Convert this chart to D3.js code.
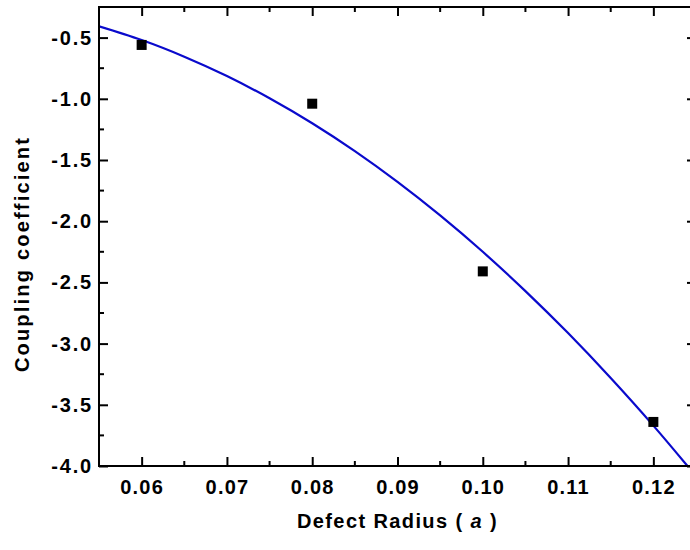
<!DOCTYPE html>
<html>
<head>
<meta charset="utf-8">
<script src="https://cdn.jsdelivr.net/npm/d3@7"></script>
<style>
  body { margin: 0; background: #fff; overflow: hidden; }
  text { font-family: "Liberation Sans", Arial, sans-serif; font-weight: bold; fill: #000; }
</style>
</head>
<body>
<div id="chart"></div>
<script>
// measured points
let radius = [0.06, 0.08, 0.10, 0.12];
let coupling = [-0.56, -1.04, -2.41, -3.64];

// fit line
let fitX = [0.055, 0.06, 0.065, 0.07, 0.075, 0.08, 0.085, 0.09, 0.095, 0.10, 0.105, 0.11, 0.115, 0.12, 0.124];
let fitY = [-0.408, -0.520, -0.656, -0.814, -0.996, -1.200, -1.428, -1.679, -1.953, -2.250, -2.571, -2.914, -3.281, -3.670, -4.000];

let xTicks = [0.06, 0.07, 0.08, 0.09, 0.10, 0.11, 0.12];
let xTickLabels = ["0.06", "0.07", "0.08", "0.09", "0.10", "0.11", "0.12"];
let yTicks = [-0.5, -1.0, -1.5, -2.0, -2.5, -3.0, -3.5, -4.0];
let yTickLabels = ["-0.5", "-1.0", "-1.5", "-2.0", "-2.5", "-3.0", "-3.5", "-4.0"];

let width = 690, height = 550;
let pLeft = 99, pRight = 696, pTop = 7, pBottom = 466;

let svg = d3.select("#chart")
    .append("svg")
    .attr("width", width)
    .attr("height", height);

let x = d3.scaleLinear().domain([0.055, 0.125]).range([pLeft, pRight]);
let y = d3.scaleLinear().domain([-4.0, -0.25]).range([pBottom, pTop]);

let xMinor = d3.range(0.055, 0.1251, 0.005).filter(function (v) {
    return Math.abs(Math.round(v * 100) - v * 100) > 1e-6;
});
let yMinor = d3.range(-3.75, -0.25, 0.5);

svg.append("defs").append("clipPath").attr("id", "plot")
    .append("rect")
    .attr("x", pLeft).attr("y", pTop)
    .attr("width", pRight - pLeft).attr("height", pBottom - pTop);

// fitted curve
let line = d3.line()
    .x(function (d, i) { return x(fitX[i]); })
    .y(function (d) { return y(d); })
    .curve(d3.curveNatural);

svg.append("path")
    .datum(fitY)
    .attr("clip-path", "url(#plot)")
    .attr("fill", "none")
    .attr("stroke", "#0a0acc")
    .attr("stroke-width", 2.2)
    .attr("d", line);

// data squares
svg.selectAll(".pt")
    .data(coupling)
    .enter()
    .append("rect")
    .attr("x", function (d, i) { return x(radius[i]) - 5; })
    .attr("y", function (d) { return y(d) - 5; })
    .attr("width", 10)
    .attr("height", 10)
    .attr("fill", "#000");

// axes, ticks inward on all sides
function ticks(axis, g) {
    g.call(axis);
    g.select(".domain").remove();
    g.selectAll("line").attr("stroke", "#000").attr("stroke-width", 2);
}

let xb = svg.append("g").attr("transform", "translate(0," + pBottom + ")");
ticks(d3.axisBottom(x).tickValues(xTicks).tickSizeInner(-9).tickSizeOuter(0)
    .tickFormat(function (d, i) { return xTickLabels[i]; }).tickPadding(14), xb);
xb.append("g").selectAll("line").data(xMinor).enter().append("line")
    .attr("x1", function (d) { return x(d); }).attr("x2", function (d) { return x(d); })
    .attr("y1", 0).attr("y2", -5).attr("stroke", "#000").attr("stroke-width", 2);
xb.selectAll("text").attr("font-size", 20).attr("letter-spacing", 1.2);

let xt = svg.append("g").attr("transform", "translate(0," + pTop + ")");
ticks(d3.axisTop(x).tickValues(xTicks).tickSizeInner(-9).tickSizeOuter(0).tickFormat(""), xt);
xt.append("g").selectAll("line").data(xMinor).enter().append("line")
    .attr("x1", function (d) { return x(d); }).attr("x2", function (d) { return x(d); })
    .attr("y1", 0).attr("y2", 5).attr("stroke", "#000").attr("stroke-width", 2);

let yl = svg.append("g").attr("transform", "translate(" + pLeft + ",0)");
ticks(d3.axisLeft(y).tickValues(yTicks).tickSizeInner(-9).tickSizeOuter(0)
    .tickFormat(function (d, i) { return yTickLabels[i]; }).tickPadding(6), yl);
yl.append("g").selectAll("line").data(yMinor).enter().append("line")
    .attr("y1", function (d) { return y(d); }).attr("y2", function (d) { return y(d); })
    .attr("x1", 0).attr("x2", 5).attr("stroke", "#000").attr("stroke-width", 2);
yl.selectAll("text").attr("font-size", 20).attr("letter-spacing", 1.8);

let yr = svg.append("g").attr("transform", "translate(" + pRight + ",0)");
ticks(d3.axisRight(y).tickValues(yTicks).tickSizeInner(-9).tickSizeOuter(0).tickFormat(""), yr);
yr.append("g").selectAll("line").data(yMinor).enter().append("line")
    .attr("y1", function (d) { return y(d); }).attr("y2", function (d) { return y(d); })
    .attr("x1", 0).attr("x2", -5).attr("stroke", "#000").attr("stroke-width", 2);

// frame
svg.append("rect")
    .attr("x", pLeft).attr("y", pTop)
    .attr("width", pRight - pLeft).attr("height", pBottom - pTop)
    .attr("fill", "none").attr("stroke", "#000").attr("stroke-width", 2);

// axis titles
let xTitle = svg.append("text")
    .attr("x", (pLeft + pRight) / 2)
    .attr("y", 528)
    .attr("text-anchor", "middle")
    .attr("font-size", 20)
    .attr("letter-spacing", 1.4);
xTitle.append("tspan").text("Defect Radius ( ");
xTitle.append("tspan").attr("font-style", "italic").text("a");
xTitle.append("tspan").text(" )");

svg.append("text")
    .attr("transform", "translate(29,254) rotate(-90)")
    .attr("text-anchor", "middle")
    .attr("font-size", 20)
    .attr("letter-spacing", 2.2)
    .text("Coupling coefficient");
</script>
</body>
</html>
